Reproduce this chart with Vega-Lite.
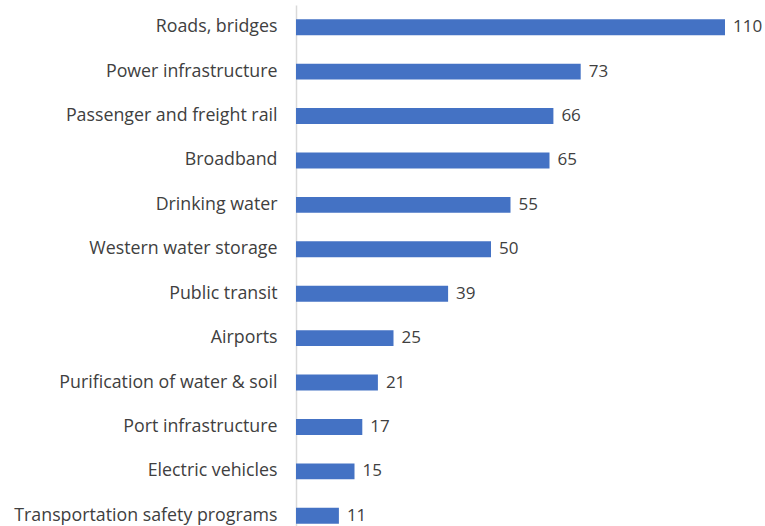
{
  "$schema": "https://vega.github.io/schema/vega-lite/v6.json",
  "autosize": "none",
  "width": 429,
  "height": 533,
  "padding": {"left": 296, "top": 5, "right": 40, "bottom": 0},
  "background": "white",
  "config": {"view": {"stroke": null}},
  "data": {"values": [
    {"category": "Roads, bridges", "value": 110},
    {"category": "Power infrastructure", "value": 73},
    {"category": "Passenger and freight rail", "value": 66},
    {"category": "Broadband", "value": 65},
    {"category": "Drinking water", "value": 55},
    {"category": "Western water storage", "value": 50},
    {"category": "Public transit", "value": 39},
    {"category": "Airports", "value": 25},
    {"category": "Purification of water & soil", "value": 21},
    {"category": "Port infrastructure", "value": 17},
    {"category": "Electric vehicles", "value": 15},
    {"category": "Transportation safety programs", "value": 11}
  ]},
  "encoding": {
    "y": {"field": "category", "type": "nominal", "sort": null,
      "scale": {"paddingInner": 0.64, "paddingOuter": 0.32},
      "axis": {"title": null, "ticks": false, "domainColor": "#d9d9d9", "domainWidth": 1.5,
        "labelFont": "Open Sans", "labelFontSize": 17.8, "labelColor": "#404040", "labelPadding": 19, "labelLimit": 400}},
    "x": {"field": "value", "type": "quantitative", "scale": {"domain": [0, 110], "nice": false}, "axis": null}
  },
  "layer": [
    {"mark": {"type": "bar", "color": "#4472C4"}},
    {"mark": {"type": "text", "align": "left", "dx": 8, "font": "Open Sans", "fontSize": 17, "color": "#404040"},
     "encoding": {"text": {"field": "value", "type": "quantitative"}}}
  ]
}
